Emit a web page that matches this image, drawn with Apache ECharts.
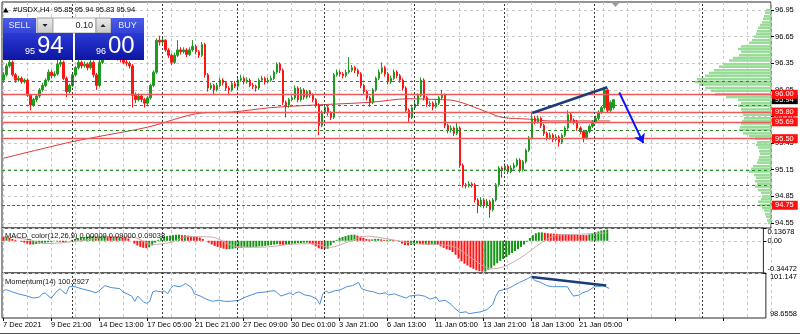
<!DOCTYPE html>
<html><head><meta charset="utf-8">
<script src="https://cdn.jsdelivr.net/npm/echarts@6/dist/echarts.min.js"></script>
<style>html,body{margin:0;padding:0;background:#fff}#c{width:800px;height:335px}</style>
</head><body><div id="c"></div>
<script>
// ---------------- DATA ----------------
const timeLabels = ['7 Dec 2021','9 Dec 21:00','14 Dec 13:00','17 Dec 05:00','21 Dec 21:00','27 Dec 09:00','30 Dec 01:00','3 Jan 21:00','6 Jan 13:00','11 Jan 05:00','13 Jan 21:00','18 Jan 13:00','21 Jan 05:00'];
const TOTAL_BARS = 256;

const opens = [
96.16,96.22,96.32,96.36,96.22,96.16,96.18,96.14,96.16,95.99,
95.88,95.94,95.98,96.05,96.10,96.16,96.25,96.21,96.23,96.34,
96.36,96.18,96.03,96.10,96.22,96.30,96.36,96.32,96.34,96.30,
96.36,96.22,96.10,96.36,96.41,96.44,96.48,96.43,96.45,96.41,
96.39,96.36,96.35,96.32,95.99,95.94,95.98,95.94,95.90,95.96,
96.10,96.25,96.61,96.59,96.61,96.50,96.44,96.36,96.44,96.50,
96.48,96.50,96.45,96.50,96.54,96.48,96.44,96.56,96.22,96.07,
96.10,96.05,96.10,96.16,96.13,96.07,96.05,96.12,96.09,96.16,
96.18,96.14,96.16,96.10,96.09,96.07,96.16,96.18,96.14,96.16,
96.18,96.25,96.34,96.27,95.91,95.88,95.94,95.96,96.07,95.94,
96.05,95.97,96.03,95.99,95.94,95.88,95.65,95.80,95.85,95.79,
95.74,96.22,96.25,96.23,96.21,96.25,96.27,96.30,96.27,96.23,
96.10,96.03,95.96,95.91,96.05,96.18,96.25,96.30,96.23,96.14,
96.18,96.25,96.21,96.16,96.07,95.82,95.74,95.85,95.89,95.99,
96.16,95.96,95.89,95.90,95.86,95.90,95.96,95.99,95.65,95.60,
95.62,95.56,95.62,95.20,94.98,94.97,94.99,94.98,94.81,94.75,
94.81,94.75,94.79,94.70,94.81,94.98,95.17,95.15,95.19,95.13,
95.17,95.20,95.26,95.15,95.24,95.37,95.51,95.73,95.69,95.73,
95.65,95.56,95.51,95.54,95.49,95.52,95.46,95.54,95.62,95.77,
95.71,95.69,95.62,95.58,95.51,95.58,95.64,95.69,95.73,95.80,
95.85,96.05,95.82,95.85];
const closes = [
96.22,96.32,96.36,96.22,96.16,96.18,96.14,96.16,95.99,95.88,
95.94,95.98,96.05,96.10,96.16,96.25,96.21,96.23,96.34,96.36,
96.18,96.03,96.10,96.22,96.30,96.36,96.32,96.34,96.30,96.36,
96.22,96.10,96.36,96.41,96.44,96.48,96.43,96.45,96.41,96.39,
96.36,96.35,96.32,95.99,95.94,95.98,95.94,95.90,95.96,96.10,
96.25,96.61,96.59,96.61,96.50,96.44,96.36,96.44,96.50,96.48,
96.50,96.45,96.50,96.54,96.48,96.44,96.56,96.22,96.07,96.10,
96.05,96.10,96.16,96.13,96.07,96.05,96.12,96.09,96.16,96.18,
96.14,96.16,96.10,96.09,96.07,96.16,96.18,96.14,96.16,96.18,
96.25,96.34,96.27,95.91,95.88,95.94,95.96,96.07,95.94,96.05,
95.97,96.03,95.99,95.94,95.88,95.65,95.80,95.85,95.79,95.74,
96.22,96.25,96.23,96.21,96.25,96.27,96.30,96.27,96.23,96.10,
96.03,95.96,95.91,96.05,96.18,96.25,96.30,96.23,96.14,96.18,
96.25,96.21,96.16,96.07,95.82,95.74,95.85,95.89,95.99,96.16,
95.96,95.89,95.90,95.86,95.90,95.96,95.99,95.65,95.60,95.62,
95.56,95.62,95.20,94.98,94.97,94.99,94.98,94.81,94.75,94.81,
94.75,94.79,94.70,94.81,94.98,95.17,95.15,95.19,95.13,95.17,
95.20,95.26,95.15,95.24,95.37,95.51,95.73,95.69,95.73,95.65,
95.56,95.51,95.54,95.49,95.52,95.46,95.54,95.62,95.77,95.71,
95.69,95.62,95.58,95.51,95.58,95.64,95.69,95.73,95.80,95.85,
96.05,95.82,95.91,95.94];
const lows = [
96.13,96.20,96.30,96.20,96.13,96.14,96.12,96.12,95.97,95.82,
95.86,95.91,95.96,96.03,96.08,96.14,96.18,96.19,96.21,96.31,
96.16,95.97,96.01,96.08,96.20,96.28,96.29,96.30,96.27,96.28,
96.19,96.05,96.08,96.34,96.39,96.42,96.40,96.41,96.38,96.36,
96.34,96.32,96.29,95.85,95.90,95.92,95.91,95.85,95.88,95.94,
96.08,96.23,96.55,96.56,96.48,96.41,96.33,96.34,96.42,96.45,
96.46,96.42,96.43,96.48,96.45,96.41,96.42,96.19,96.03,96.05,
95.99,96.03,96.08,96.10,96.04,95.99,96.03,96.07,96.07,96.14,
96.11,96.12,96.08,96.06,96.03,96.05,96.14,96.11,96.12,96.14,
96.16,96.23,96.24,95.88,95.74,95.85,95.92,95.94,95.91,95.92,
95.94,95.95,95.96,95.91,95.85,95.54,95.63,95.78,95.76,95.71,
95.72,96.20,96.20,96.18,96.19,96.23,96.25,96.24,96.20,96.07,
96.00,95.93,95.86,95.89,96.03,96.16,96.23,96.20,96.11,96.12,
96.16,96.18,96.13,96.04,95.79,95.69,95.72,95.83,95.87,95.97,
95.93,95.86,95.86,95.82,95.84,95.88,95.94,95.62,95.56,95.57,
95.53,95.54,95.17,94.95,94.94,94.95,94.95,94.78,94.66,94.73,
94.72,94.72,94.61,94.68,94.79,94.96,95.06,95.13,95.10,95.11,
95.15,95.18,95.12,95.13,95.22,95.35,95.49,95.66,95.67,95.62,
95.53,95.48,95.49,95.46,95.47,95.41,95.44,95.52,95.60,95.68,
95.66,95.59,95.55,95.46,95.49,95.56,95.62,95.67,95.71,95.78,
95.83,95.79,95.80,95.83];
const highs = [
96.25,96.35,96.41,96.38,96.24,96.21,96.20,96.18,96.18,96.00,
95.96,96.00,96.07,96.13,96.18,96.28,96.27,96.26,96.39,96.41,
96.38,96.20,96.12,96.24,96.32,96.41,96.38,96.37,96.36,96.39,
96.38,96.24,96.41,96.44,96.47,96.51,96.50,96.48,96.47,96.43,
96.42,96.39,96.37,96.34,96.02,96.01,96.00,95.96,95.98,96.12,
96.27,96.63,96.66,96.64,96.62,96.52,96.46,96.47,96.61,96.53,
96.53,96.52,96.53,96.61,96.56,96.50,96.59,96.58,96.24,96.13,
96.12,96.13,96.19,96.18,96.15,96.09,96.14,96.15,96.19,96.22,
96.20,96.19,96.18,96.13,96.11,96.18,96.21,96.20,96.19,96.21,
96.27,96.36,96.36,96.29,95.93,95.96,95.99,96.10,96.09,96.08,
96.07,96.05,96.05,96.01,95.96,95.90,95.82,95.87,95.87,95.81,
96.24,96.28,96.27,96.25,96.28,96.42,96.33,96.32,96.29,96.25,
96.12,96.05,95.98,96.07,96.20,96.28,96.36,96.32,96.25,96.21,
96.28,96.27,96.23,96.18,96.09,95.84,95.87,95.92,96.01,96.19,
96.18,95.98,95.93,95.92,95.93,95.98,96.05,96.01,95.67,95.65,
95.64,95.68,95.64,95.22,95.00,95.02,95.01,95.00,94.83,94.84,
94.83,94.82,94.81,94.83,95.00,95.19,95.19,95.22,95.21,95.20,
95.23,95.28,95.28,95.26,95.39,95.53,95.79,95.76,95.76,95.75,
95.67,95.58,95.57,95.56,95.55,95.54,95.56,95.64,95.82,95.79,
95.73,95.71,95.64,95.60,95.60,95.66,95.71,95.76,95.82,95.87,
96.08,96.07,95.93,95.94];

// moving average (bar index, price)
const maPoints = [[0,95.28],[22,95.46],[31,95.52],[48,95.63],[66,95.79],[76,95.80],[89,95.85],[104,95.88],[122,95.91],[135,95.95],[145,95.94],[150,95.93],[161,95.80],[166,95.74],[175,95.72],[182,95.70],[202,95.70]];

// MACD histogram per bar
const macdValues = [
0.04,0.04,0.03,0.02,0.01,0.00,-0.01,-0.02,-0.03,-0.04,
-0.04,-0.035,-0.03,-0.025,-0.02,-0.015,-0.01,-0.005,-0.005,-0.01,
-0.015,-0.01,0.00,0.01,0.02,0.03,0.035,0.04,0.045,0.05,
0.05,0.045,0.045,0.05,0.055,0.05,0.045,0.045,0.04,0.04,
0.035,0.03,0.025,0.00,-0.03,-0.05,-0.065,-0.075,-0.08,-0.07,
-0.05,-0.02,0.01,0.03,0.045,0.05,0.055,0.06,0.065,0.065,
0.06,0.06,0.055,0.05,0.045,0.04,0.035,0.02,0.00,-0.02,
-0.04,-0.055,-0.065,-0.075,-0.085,-0.09,-0.09,-0.085,-0.08,-0.075,
-0.075,-0.07,-0.07,-0.07,-0.065,-0.065,-0.06,-0.06,-0.055,-0.05,
-0.045,-0.04,-0.035,-0.04,-0.045,-0.04,-0.035,-0.03,-0.03,-0.025,
-0.025,-0.02,-0.02,-0.025,-0.04,-0.06,-0.08,-0.09,-0.09,-0.085,
-0.05,-0.02,0.01,0.03,0.04,0.05,0.06,0.065,0.065,0.055,
0.045,0.03,0.02,0.015,0.015,0.02,0.02,0.015,0.01,0.01,
0.015,0.01,0.005,-0.01,-0.03,-0.045,-0.05,-0.045,-0.04,-0.03,
-0.035,-0.04,-0.04,-0.045,-0.04,-0.04,-0.045,-0.06,-0.075,-0.09,
-0.10,-0.12,-0.15,-0.19,-0.22,-0.245,-0.265,-0.285,-0.30,-0.315,
-0.325,-0.33,-0.33,-0.31,-0.29,-0.265,-0.24,-0.215,-0.195,-0.175,
-0.15,-0.13,-0.11,-0.09,-0.065,-0.04,-0.01,0.03,0.06,0.08,
0.09,0.09,0.085,0.08,0.078,0.076,0.074,0.072,0.07,0.069,
0.068,0.066,0.065,0.064,0.063,0.062,0.061,0.07,0.08,0.09,
0.10,0.11,0.115,0.12];
const signalPoints = [[0,0.045],[8,0.015],[14,-0.03],[20,-0.02],[28,0.01],[36,0.045],[44,0.035],[50,-0.04],[56,-0.02],[62,0.045],[70,0.04],[78,-0.06],[86,-0.07],[96,-0.04],[104,-0.03],[110,-0.07],[116,-0.01],[122,0.05],[130,0.015],[138,-0.03],[146,-0.04],[152,-0.07],[158,-0.2],[164,-0.3],[168,-0.28],[174,-0.18],[180,-0.04],[186,0.06],[194,0.07],[203,0.085]];
const macdTickValues = [0.13678, 0, -0.34472];
const macdTickLabels = ['0.13678', '0.00', '-0.34472'];

// Momentum(14) (bar index, value)
const momentumPoints = [[0,100.18],[1,100.22],[3,100.10],[5,99.99],[8,99.87],[10,99.76],[12,99.81],[13,99.99],[14,100.05],[15,99.87],[16,99.76],[18,100.16],[19,100.28],[20,100.10],[21,99.99],[22,100.39],[24,100.39],[26,100.28],[29,100.16],[31,100.05],[32,100.16],[34,100.45],[36,100.34],[39,100.28],[40,100.10],[43,99.87],[44,99.58],[45,99.87],[47,99.53],[48,99.47],[49,99.58],[50,100.10],[51,100.16],[53,100.10],[54,100.16],[55,99.99],[56,100.28],[57,100.45],[59,100.39],[60,100.45],[61,100.57],[63,100.34],[64,99.99],[66,99.87],[68,99.70],[69,99.64],[70,99.58],[72,99.64],[74,99.58],[76,99.58],[79,99.64],[81,99.81],[83,99.93],[85,100.05],[88,100.10],[90,100.16],[91,100.16],[93,99.87],[94,99.93],[96,100.05],[97,99.93],[98,100.05],[99,100.10],[101,99.93],[103,99.87],[105,99.70],[106,99.41],[107,99.99],[108,100.16],[109,100.05],[111,100.16],[113,100.22],[115,100.39],[117,100.45],[119,100.63],[120,100.28],[122,100.16],[124,100.10],[126,99.99],[128,100.05],[129,99.93],[131,99.99],[133,99.87],[135,99.76],[136,99.87],[139,99.93],[141,99.87],[143,99.70],[145,99.81],[146,99.58],[148,99.64],[150,99.41],[151,99.23],[153,98.95],[155,99.00],[156,98.89],[158,98.95],[160,99.00],[162,99.12],[164,99.41],[165,99.87],[166,100.16],[169,100.28],[171,100.45],[173,100.63],[176,100.86],[177,100.97],[178,100.74],[180,100.63],[182,100.45],[184,100.39],[186,100.39],[189,100.39],[190,100.10],[191,99.87],[193,99.93],[194,100.05],[196,100.16],[198,100.39],[199,100.39],[201,100.45],[203,100.29]];
const momTickValues = [101.147, 98.6558];
const momTickLabels = ['101.147', '98.6558'];

// volume profile (price row, volume)
const profilePrices = [96.95,96.92,96.88,96.85,96.81,96.78,96.75,96.71,96.68,96.65,96.61,96.58,96.54,96.51,96.48,96.44,96.41,96.38,96.34,96.31,96.27,96.24,96.21,96.17,96.14,96.11,96.07,96.04,96.00,95.97,95.94,95.90,95.87,95.83,95.80,95.77,95.73,95.70,95.67,95.63,95.60,95.56,95.53,95.50,95.46,95.43,95.40,95.36,95.33,95.29,95.26,95.23,95.19,95.16,95.13,95.09,95.06,95.02,94.99,94.96,94.92,94.89,94.85,94.82,94.79,94.75,94.72,94.69,94.65,94.62,94.58,94.55];
const profileVolumes = [5,6,7,8,9,11,13,14,15,17,19,22,30,33,30,32,38,42,47,52,57,62,66,74,76,72,66,60,56,45,33,30,33,30,29,28,27,29,30,31,32,28,22,16,14,15,13,12,11,12,13,14,18,20,22,17,15,16,14,16,13,10,9,10,13,12,9,7,6,5,4,3];

// horizontal levels / objects
const redLevels = [96.00, 95.80, 95.69, 95.50];
const dashedRedLevels = [94.75];
const greenLevels = [96.15, 95.88, 95.59, 95.14, 94.97];
const bidPrice = 95.94;
const weekSeparators = [23, 53, 78, 107, 137, 167, 197, 233];
const trendLine = [[176, 95.79], [201, 96.08]];
const arrowLine = [[205, 96.02], [213, 95.45]];
const momentumTrend = [[177, 100.92], [202, 100.45]];

const headerText = '#USDX,H4  95.85 95.94 95.83 95.94';
const macdTitle = 'MACD_color(12,26,9) 0.00000 0.09000 0.09038';
const momTitle = 'Momentum(14) 100.2927';
const sellPrice = ['95', '94'];
const buyPrice = ['96', '00'];
const lotSize = '0.10';

// ---------------- CHART ----------------
const FONT = 'Liberation Sans, Arial, sans-serif';
const PROFILE_ROW = 0.0338;
const cats = Array.from({length: TOTAL_BARS}, (_, i) => String(i));
const candleData = opens.map((o, i) => [o, closes[i], lows[i], highs[i]]);
const profileData = profilePrices.map((p, i) => [profileVolumes[i], p]);

const boxLabel = (txt, bg) => ({show: true, position: 'end', distance: 1, formatter: txt, color: '#fff',
  backgroundColor: bg, padding: [1, 4, 0, 3], lineHeight: 8, fontSize: 7.5, fontFamily: FONT, opacity: 1});

const levelMarks = [];
levelMarks.push({yAxis: bidPrice, lineStyle: {color: 'rgba(0,0,0,0)', width: 0.1}, label: boxLabel(bidPrice.toFixed(2), '#000')});
greenLevels.forEach(v => levelMarks.push({yAxis: v, lineStyle: {color: '#2f8a2f', type: [3, 3], width: 1}, label: {show: false}}));
redLevels.forEach(v => levelMarks.push({yAxis: v, lineStyle: {color: '#ec5a5a', type: 'solid', width: 1.4}, label: boxLabel(v.toFixed(2), '#ff1010')}));
dashedRedLevels.forEach(v => levelMarks.push({yAxis: v, lineStyle: {color: '#c83a10', type: [3, 2], width: 1.2}, label: boxLabel(v.toFixed(2), '#ff1010')}));
levelMarks.push([
  {coord: trendLine[0], symbol: 'none', lineStyle: {color: '#1c3c78', width: 2.5, type: 'solid'}, label: {show: false}},
  {coord: trendLine[1], symbol: 'none'}]);
levelMarks.push([
  {coord: arrowLine[0], symbol: 'none', lineStyle: {color: '#0a14ff', width: 2, type: 'solid'}, label: {show: false}},
  {coord: arrowLine[1], symbol: 'arrow', symbolSize: 9}]);

const near = (a, b) => Math.abs(a - b) < 1e-4;
const macdAxis = (idx, align) => ({
  type: 'value', gridIndex: 2, position: 'right', min: macdTickValues[2], max: macdTickValues[0], interval: 0.34472,
  axisLine: {show: false}, axisTick: {show: idx === 0, length: 3, lineStyle: {color: '#000'}},
  axisLabel: {showMinLabel: true, showMaxLabel: true, color: '#000', fontSize: 7.5, fontFamily: FONT, margin: 4, verticalAlign: align,
    formatter: v => near(v, macdTickValues[idx]) ? macdTickLabels[idx] : ''},
  splitLine: {show: idx === 0, lineStyle: {color: '#c8c8c8', type: [3, 3]}}
});
const momAxis = (idx, align) => ({
  type: 'value', gridIndex: 3, position: 'right', min: momTickValues[1], max: momTickValues[0], interval: 10,
  axisLine: {show: false}, axisTick: {show: false},
  axisLabel: {showMinLabel: true, showMaxLabel: true, color: '#000', fontSize: 7.5, fontFamily: FONT, margin: 4, verticalAlign: align,
    formatter: v => near(v, momTickValues[idx]) ? momTickLabels[idx] : ''},
  splitLine: {show: false}
});
const hiddenCat = g => ({type: 'category', gridIndex: g, data: cats, show: false, boundaryGap: true});

const blueHead = () => new echarts.graphic.LinearGradient(0, 0, 0, 1, [{offset: 0, color: '#4d5fe8'}, {offset: 1, color: '#3344d6'}]);
const blueBody = () => new echarts.graphic.LinearGradient(0, 0, 0, 1, [{offset: 0, color: '#2b3ad6'}, {offset: 1, color: '#0d16a2'}]);
const grayBtn = () => new echarts.graphic.LinearGradient(0, 0, 0, 1, [{offset: 0, color: '#ececec'}, {offset: 1, color: '#c8c8c8'}]);

const chart = echarts.init(document.getElementById('c'), null, {renderer: 'canvas'});
chart.setOption({
  animation: false,
  backgroundColor: '#fff',
  textStyle: {fontFamily: FONT},
  grid: [
    {left: 2, top: 2, width: 769, height: 226, show: true, borderColor: '#2a2a2a', borderWidth: 1, backgroundColor: 'transparent'},
    {left: 2, top: 10, width: 769, height: 213},
    {left: 2, top: 228, width: 769, height: 45, show: true, borderColor: '#2a2a2a', borderWidth: 1, backgroundColor: 'transparent'},
    {left: 2, top: 273, width: 769, height: 45, show: true, borderColor: '#2a2a2a', borderWidth: 1, backgroundColor: 'transparent'},
    {left: 2, top: 2, width: 769, height: 316}
  ],
  xAxis: [
    hiddenCat(0),
    hiddenCat(1),
    {type: 'value', gridIndex: 1, min: 0, max: 769, inverse: true, show: false},
    hiddenCat(2),
    hiddenCat(3),
    {type: 'value', gridIndex: 4, min: 0, max: TOTAL_BARS, interval: 8, axisLine: {show: false}, axisTick: {show: false}, axisLabel: {show: false},
      splitLine: {show: true, lineStyle: {color: '#c8c8c8', type: [3, 3]}}},
    {type: 'value', gridIndex: 4, min: 0, max: TOTAL_BARS, interval: 16, position: 'bottom', axisLine: {show: false},
      axisTick: {show: true, length: 3, lineStyle: {color: '#000'}}, splitLine: {show: false},
      axisLabel: {color: '#000', fontSize: 7.5, fontFamily: FONT, align: 'left', margin: 3, showMaxLabel: false,
        formatter: v => timeLabels[v / 16] || ''}}
  ],
  yAxis: [
    {type: 'value', gridIndex: 0, show: false, min: 0, max: 1},
    {type: 'value', gridIndex: 1, position: 'right', min: 94.55, max: 96.95, interval: 0.3,
      axisLine: {show: false}, axisTick: {show: true, length: 3, lineStyle: {color: '#000'}},
      axisLabel: {color: '#000', fontSize: 7.5, fontFamily: FONT, margin: 4, formatter: v => v.toFixed(2)},
      splitLine: {show: true, lineStyle: {color: '#c8c8c8', type: [3, 3]}}},
    macdAxis(0, 'top'), macdAxis(1, 'middle'), macdAxis(2, 'bottom'),
    momAxis(0, 'top'), momAxis(1, 'bottom'),
    {type: 'value', gridIndex: 4, show: false, min: 0, max: 1}
  ],
  series: [
    {type: 'custom', name: 'profile', xAxisIndex: 2, yAxisIndex: 1, data: profileData, z: 1, silent: true,
      encode: {x: 0, y: 1},
      renderItem: (params, api) => {
        const a = api.coord([api.value(0), api.value(1)]);
        const b = api.coord([0, api.value(1)]);
        const h = Math.abs(api.size([0, PROFILE_ROW])[1]);
        return {type: 'rect', shape: {x: Math.min(a[0], b[0]), y: a[1] - h / 2 + 0.25, width: Math.abs(b[0] - a[0]), height: Math.max(h - 0.5, 1)},
          style: {fill: '#98dc98'}};
      }},
    {type: 'line', name: 'MA', xAxisIndex: 1, yAxisIndex: 1, data: maPoints, symbol: 'none', smooth: 0.3, z: 3,
      lineStyle: {color: '#dc3a3a', width: 1}},
    {type: 'candlestick', name: 'USDX', xAxisIndex: 1, yAxisIndex: 1, data: candleData, barWidth: 2, z: 4,
      itemStyle: {color: '#1f9a1f', color0: '#ff1414', borderColor: '#1f9a1f', borderColor0: '#ff1414', borderWidth: 1},
      markLine: {silent: true, symbol: ['none', 'none'], animation: false, data: levelMarks}},
    {type: 'bar', name: 'MACD', xAxisIndex: 3, yAxisIndex: 2, data: macdValues, barWidth: 2, z: 3,
      itemStyle: {color: p => (p.dataIndex > 0 && macdValues[p.dataIndex] < macdValues[p.dataIndex - 1]) || p.dataIndex === 0 ? '#ff1414' : '#129612'}},
    {type: 'line', name: 'Signal', xAxisIndex: 3, yAxisIndex: 2, data: signalPoints, symbol: 'none', smooth: 0.3, z: 4,
      lineStyle: {color: '#d2a9a9', width: 1}},
    {type: 'line', name: 'Momentum', xAxisIndex: 4, yAxisIndex: 5, data: momentumPoints, symbol: 'none', z: 3,
      lineStyle: {color: '#4a8fd8', width: 1},
      markLine: {silent: true, symbol: ['none', 'none'], animation: false, label: {show: false},
        lineStyle: {color: '#1c3c78', width: 2.5, type: 'solid'},
        data: [[{coord: momentumTrend[0]}, {coord: momentumTrend[1]}]]}},
    {type: 'line', name: 'sep', xAxisIndex: 5, yAxisIndex: 7, data: [[0, 0.5]], symbol: 'none', lineStyle: {opacity: 0}, z: 2,
      markLine: {silent: true, symbol: ['none', 'none'], animation: false, label: {show: false},
        lineStyle: {color: '#3a3a3a', type: [2, 2], width: 1, opacity: 1},
        data: weekSeparators.map(v => ({xAxis: v}))}}
  ],
  graphic: [
    {type: 'polygon', z: 100, shape: {points: [[3, 12.5], [8.5, 12.5], [5.75, 7.5]]}, style: {fill: '#000'}},
    {type: 'text', z: 100, x: 13, y: 10, style: {text: headerText, fontSize: 7.5, fontFamily: FONT, fill: '#000', verticalAlign: 'middle'}},
    {type: 'polygon', z: 100, shape: {points: [[611, 2], [620, 2], [615.5, 7]]}, style: {fill: '#9a9a9a'}},
    // one-click trading panel
    {type: 'rect', z: 100, shape: {x: 3, y: 18, width: 33, height: 15}, style: {fill: blueHead()}},
    {type: 'text', z: 101, x: 19.5, y: 26, style: {text: 'SELL', fontSize: 9, fontFamily: FONT, fill: '#e6eaff', align: 'center', verticalAlign: 'middle'}},
    {type: 'rect', z: 100, shape: {x: 37, y: 18, width: 16, height: 15}, style: {fill: grayBtn(), stroke: '#9a9a9a', lineWidth: 1}},
    {type: 'polygon', z: 101, shape: {points: [[42.5, 24], [47.5, 24], [45, 27]]}, style: {fill: '#222'}},
    {type: 'rect', z: 100, shape: {x: 53, y: 18, width: 43, height: 15}, style: {fill: '#fff', stroke: '#aaa', lineWidth: 1}},
    {type: 'text', z: 101, x: 93, y: 26, style: {text: lotSize, fontSize: 9, fontFamily: FONT, fill: '#222', align: 'right', verticalAlign: 'middle'}},
    {type: 'rect', z: 100, shape: {x: 96, y: 18, width: 15, height: 15}, style: {fill: grayBtn(), stroke: '#9a9a9a', lineWidth: 1}},
    {type: 'polygon', z: 101, shape: {points: [[100.5, 27], [105.5, 27], [103, 24]]}, style: {fill: '#222'}},
    {type: 'rect', z: 100, shape: {x: 111, y: 18, width: 33, height: 15}, style: {fill: blueHead()}},
    {type: 'text', z: 101, x: 127.5, y: 26, style: {text: 'BUY', fontSize: 9, fontFamily: FONT, fill: '#e6eaff', align: 'center', verticalAlign: 'middle'}},
    {type: 'rect', z: 100, shape: {x: 3, y: 33, width: 70, height: 27}, style: {fill: blueBody()}},
    {type: 'rect', z: 100, shape: {x: 75, y: 33, width: 69, height: 27}, style: {fill: blueBody()}},
    {type: 'text', z: 101, x: 35, y: 56, style: {text: sellPrice[0], fontSize: 9, fontFamily: FONT, fill: '#fff', align: 'right', verticalAlign: 'bottom'}},
    {type: 'text', z: 101, x: 37, y: 58.5, style: {text: sellPrice[1], fontSize: 24, fontFamily: FONT, fill: '#fff', align: 'left', verticalAlign: 'bottom'}},
    {type: 'text', z: 101, x: 106, y: 56, style: {text: buyPrice[0], fontSize: 9, fontFamily: FONT, fill: '#fff', align: 'right', verticalAlign: 'bottom'}},
    {type: 'text', z: 101, x: 108, y: 58.5, style: {text: buyPrice[1], fontSize: 24, fontFamily: FONT, fill: '#fff', align: 'left', verticalAlign: 'bottom'}},
    // indicator titles
    {type: 'text', z: 100, x: 5, y: 236, style: {text: macdTitle, fontSize: 7.5, fontFamily: FONT, fill: '#111', verticalAlign: 'middle'}},
    {type: 'text', z: 100, x: 5, y: 282, style: {text: momTitle, fontSize: 7.5, fontFamily: FONT, fill: '#111', verticalAlign: 'middle'}},
    {type: 'line', z: 100, shape: {x1: 0, y1: 333.5, x2: 800, y2: 333.5}, style: {stroke: '#555', lineWidth: 1}}
  ]
});
</script>
</body></html>
